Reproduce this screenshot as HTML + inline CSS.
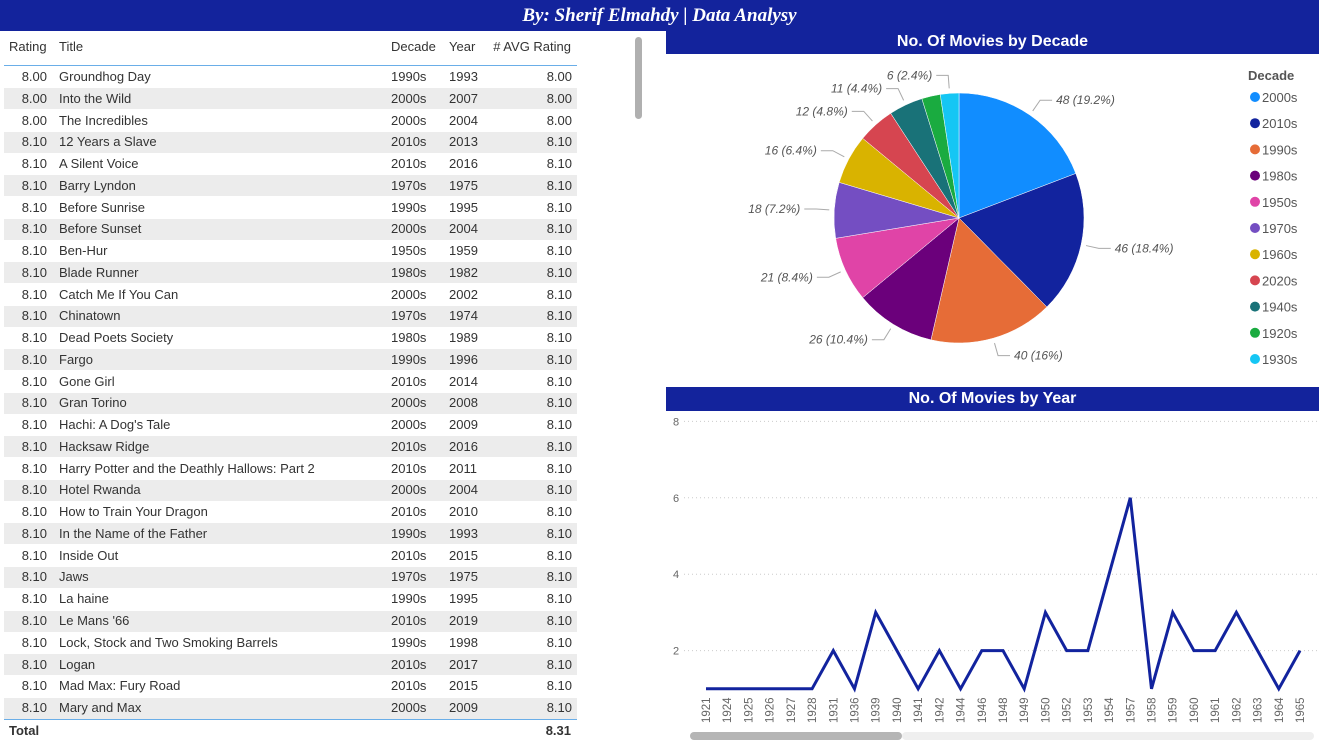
<!DOCTYPE html>
<html><head><meta charset="utf-8"><style>
body{margin:0;width:1319px;height:743px;background:#fff;position:relative;overflow:hidden;font-family:"Liberation Sans",sans-serif;}
.abs{position:absolute;}
#topbar{left:0;top:0;width:1319px;height:31px;background:#13239c;color:#fff;font:italic bold 19px "Liberation Serif",serif;text-align:center;line-height:31px;}
.hdr{background:#13239c;color:#fff;font:bold 16px "Liberation Sans",sans-serif;text-align:center;}
.cell{position:absolute;font-size:13px;color:#333;white-space:nowrap;}
</style></head><body>
<div id="topbar" class="abs">By: Sherif Elmahdy | Data Analysy</div>
<div id="table" class="abs" style="left:0;top:31px;width:660px;height:712px"></div>
<div class="abs" style="left:635px;top:37px;width:7px;height:82px;background:#b0b0b0;border-radius:4px"></div>
<div class="abs hdr" style="left:666px;top:29px;width:653px;height:25px;line-height:25px">No. Of Movies by Decade</div>
<div class="abs hdr" style="left:666px;top:387px;width:653px;height:24px;line-height:24px">No. Of Movies by Year</div>
<svg class="abs" style="left:0;top:0" width="1319" height="743" id="svg"></svg>
<div class="abs" style="left:902px;top:732px;width:412px;height:8px;background:#efefef;border-radius:4px"></div>
<div class="abs" style="left:690px;top:732px;width:212px;height:8px;background:#b5b5b5;border-radius:4px"></div>
<script>
const ratings=["8.00","8.00","8.00","8.10","8.10","8.10","8.10","8.10","8.10","8.10","8.10","8.10","8.10","8.10","8.10","8.10","8.10","8.10","8.10","8.10","8.10","8.10","8.10","8.10","8.10","8.10","8.10","8.10","8.10","8.10"];
const titles=["Groundhog Day","Into the Wild","The Incredibles","12 Years a Slave","A Silent Voice","Barry Lyndon","Before Sunrise","Before Sunset","Ben-Hur","Blade Runner","Catch Me If You Can","Chinatown","Dead Poets Society","Fargo","Gone Girl","Gran Torino","Hachi: A Dog's Tale","Hacksaw Ridge","Harry Potter and the Deathly Hallows: Part 2","Hotel Rwanda","How to Train Your Dragon","In the Name of the Father","Inside Out","Jaws","La haine","Le Mans '66","Lock, Stock and Two Smoking Barrels","Logan","Mad Max: Fury Road","Mary and Max"];
const decadesCol=["1990s","2000s","2000s","2010s","2010s","1970s","1990s","2000s","1950s","1980s","2000s","1970s","1980s","1990s","2010s","2000s","2000s","2010s","2010s","2000s","2010s","1990s","2010s","1970s","1990s","2010s","1990s","2010s","2010s","2000s"];
const yearsCol=["1993","2007","2004","2013","2016","1975","1995","2004","1959","1982","2002","1974","1989","1996","2014","2008","2009","2016","2011","2004","2010","1993","2015","1975","1995","2019","1998","2017","2015","2009"];

const T=document.getElementById('table');
function cell(txt,x,y,align,name,bold){const d=document.createElement('div');d.className='cell';d.textContent=txt;
d.style.top=(y-31-8)+'px';if(align==='r'){d.style.right=(660-x)+'px';}else d.style.left=x+'px';if(bold)d.style.fontWeight='bold';


T.appendChild(d);}
cell('Rating',9,47,'l','header-rating');cell('Title',59,47,'l','header-title');cell('Decade',391,47,'l','header-decade');cell('Year',449,47,'l','header-year');cell('# AVG Rating',571,47,'r','header-avg-rating');
const hl=document.createElement('div');hl.style.cssText='position:absolute;left:4px;top:34px;width:573px;height:1px;background:#6aaee8';


T.appendChild(hl);
for(let i=0;i<titles.length;i++){const y=77+i*21.76;
if(i%2===1){const b=document.createElement('div');b.style.cssText=`position:absolute;left:4px;top:${y-31-10.5}px;width:573px;height:21px;background:#ececec`;


T.appendChild(b);}
cell(ratings[i],47,y,'r','row-rating');cell(titles[i],59,y,'l','row-title');cell(decadesCol[i],391,y,'l','row-decade');cell(yearsCol[i],449,y,'l','row-year');cell(ratings[i],572,y,'r','row-avg-rating');}
const tl=document.createElement('div');tl.style.cssText='position:absolute;left:4px;top:688px;width:573px;height:1px;background:#6aaee8';


T.appendChild(tl);
cell('Total',9,731,'l','total-label',true);cell('8.31',571,731,'r','total-value',true);

// Pie chart data
const pieCats=["2000s","2010s","1990s","1980s","1950s","1970s","1960s","2020s","1940s","1920s","1930s"];
const pieVals=[48,46,40,26,21,18,16,12,11,6,6];
const pieLabels=["48 (19.2%)","46 (18.4%)","40 (16%)","26 (10.4%)","21 (8.4%)","18 (7.2%)","16 (6.4%)","12 (4.8%)","11 (4.4%)","","6 (2.4%)"];
const pieColors=["#118dff","#12239e","#e66c37","#6b007b","#e044a7","#744ec2","#d9b300","#d64550","#197278","#1aab40","#15c6f4"];
// Line chart data
const years=["1921","1924","1925","1926","1927","1928","1931","1936","1939","1940","1941","1942","1944","1946","1948","1949","1950","1952","1953","1954","1957","1958","1959","1960","1961","1962","1963","1964","1965"];
const counts=[1,1,1,1,1,1,2,1,3,2,1,2,1,2,2,1,3,2,2,4,6,1,3,2,2,3,2,1,2];
const yTicks=[2,4,6,8];

const S=document.getElementById('svg');const NS='http://www.w3.org/2000/svg';
function el(t,a,name){const e=document.createElementNS(NS,t);for(const k in a)e.setAttribute(k,a[k]);


S.appendChild(e);return e;}
// pie
const cx=959,cy=218,R=125;const tot=pieVals.reduce((a,b)=>a+b,0);let a0=0;
pieVals.forEach((v,i)=>{const a1=a0+v/tot*2*Math.PI;
const p=(a)=>[cx+R*Math.sin(a),cy-R*Math.cos(a)];const [x0,y0]=p(a0),[x1,y1]=p(a1);
el('path',{d:`M${cx},${cy}L${x0},${y0}A${R},${R} 0 ${a1-a0>Math.PI?1:0} 1 ${x1},${y1}Z`,fill:pieColors[i],stroke:'#fff','stroke-width':0.5},'pie-slice-'+pieCats[i]);
if(pieLabels[i]){const m=(a0+a1)/2;const right=Math.sin(m)>=0;
const ex=cx+(R+5)*Math.sin(m),ey=cy-(R+5)*Math.cos(m);const kx=cx+(R+18)*Math.sin(m),ky=cy-(R+18)*Math.cos(m);
const hx=kx+(right?12:-12);
el('polyline',{points:`${ex},${ey} ${kx},${ky} ${hx},${ky}`,fill:'none',stroke:'#aaa','stroke-width':1},'pie-leader-line');
const t=el('text',{x:hx+(right?4:-4),y:ky+4,'text-anchor':right?'start':'end','font-size':12,'font-style':'italic',fill:'#555','font-family':'Liberation Sans, sans-serif'},'pie-data-label');t.textContent=pieLabels[i];}
a0=a1;});
const lt=el('text',{x:1248,y:80,'font-size':13,'font-weight':'bold',fill:'#555','font-family':'Liberation Sans, sans-serif'},'legend-title');lt.textContent='Decade';
pieCats.forEach((c,i)=>{const y=97+i*26.2;el('circle',{cx:1255,cy:y,r:5,fill:pieColors[i]},'legend-marker');
const t=el('text',{x:1262,y:y+5,'font-size':13,fill:'#555','font-family':'Liberation Sans, sans-serif'},'legend-entry');t.textContent=c;});
// line chart
const xS=i=>706+i*(1300-706)/(years.length-1);const yS=v=>727-v*38.2;
yTicks.forEach(v=>{el('line',{x1:684,x2:1319,y1:yS(v),y2:yS(v),stroke:'#ccc','stroke-dasharray':'1 3'},'y-gridline');
const t=el('text',{x:676,y:yS(v)+4,'text-anchor':'middle','font-size':11,fill:'#666','font-family':'Liberation Sans, sans-serif'},'y-tick-label');t.textContent=v;});
el('polyline',{points:counts.map((v,i)=>xS(i)+','+yS(v)).join(' '),fill:'none',stroke:'#12239e','stroke-width':3,'stroke-linejoin':'miter'},'year-count-line');
years.forEach((y,i)=>{const t=el('text',{transform:`translate(${xS(i)+4},${723}) rotate(-90)`,'text-anchor':'start','font-size':11.5,fill:'#666','font-family':'Liberation Sans, sans-serif'},'x-tick-label');t.textContent=y;});
</script>
</body></html>
